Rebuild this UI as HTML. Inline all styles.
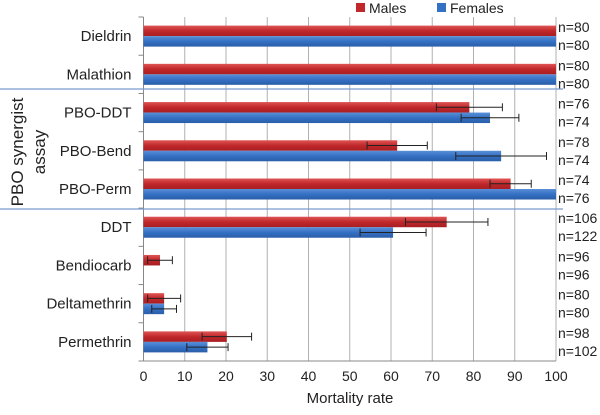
<!DOCTYPE html>
<html><head><meta charset="utf-8"><style>
body{margin:0;background:#fff;font-family:"Liberation Sans",sans-serif}
svg text{font-family:"Liberation Sans",sans-serif;fill:#222}
</style></head><body>
<svg width="600" height="410">
<defs>
<linearGradient id="gr" x1="0" y1="0" x2="0" y2="1"><stop offset="0" stop-color="#e05555"/><stop offset="0.5" stop-color="#c0282b"/><stop offset="1" stop-color="#a81e22"/></linearGradient>
<linearGradient id="gb" x1="0" y1="0" x2="0" y2="1"><stop offset="0" stop-color="#5a8fd8"/><stop offset="0.5" stop-color="#3470c4"/><stop offset="1" stop-color="#2a5ea8"/></linearGradient>
</defs>
<g id="grid"></g><g id="bars"></g><g id="labels"></g>
<line x1="0" y1="89" x2="563" y2="89" stroke="#7a9bd0" stroke-width="1.2"/>
<line x1="0" y1="209" x2="563" y2="209" stroke="#7a9bd0" stroke-width="1.2"/>
<g>
<rect x="356" y="3" width="9" height="9" fill="#c0282b"/>
<text x="369" y="13" font-size="14">Males</text>
<rect x="437" y="3" width="9" height="9" fill="#3470c4"/>
<text x="450" y="13" font-size="14">Females</text>
</g>
<text transform="translate(23,152) rotate(-90)" text-anchor="middle" font-size="17">PBO synergist</text>
<text transform="translate(45,152) rotate(-90)" text-anchor="middle" font-size="17">assay</text>
<text x="350" y="403" text-anchor="middle" font-size="15">Mortality rate</text>
</svg>
<script>
const categories=["Dieldrin","Malathion","PBO-DDT","PBO-Bend","PBO-Perm","DDT","Bendiocarb","Deltamethrin","Permethrin"];
const males=[100,100,79,61.5,89,73.5,4,5,20.2];
const malesErr=[0,0,8,7.3,5,10,3,4,6];
const females=[100,100,84,86.7,100,60.5,0,5,15.5];
const femalesErr=[0,0,7,11,0,8,0,3,5];
const nMales=["n=80","n=80","n=76","n=78","n=74","n=106","n=96","n=80","n=98"];
const nFemales=["n=80","n=80","n=74","n=74","n=76","n=122","n=96","n=80","n=102"];
const ticks=[0,10,20,30,40,50,60,70,80,90,100];
const NS="http://www.w3.org/2000/svg";
const X0=143.5,X1=556,T=17,B=361;
const x=v=>X0+(X1-X0)*v/100;
const band=(B-T)/categories.length;
const yc=i=>T+band*(i+0.5);
function mk(t,a,p){const e=document.createElementNS(NS,t);for(const k in a)e.setAttribute(k,a[k]);p.appendChild(e);return e;}
const grid=document.getElementById('grid'),bars=document.getElementById('bars'),lab=document.getElementById('labels');
ticks.forEach(t=>{
 const l=mk('line',{x1:x(t),x2:x(t),y1:T,y2:B,stroke:'#b0b0b0'},grid);
 
 
 const tx=mk('text',{x:x(t),y:B+20,'text-anchor':'middle','font-size':14},lab);tx.textContent=t;
 
 
});
const ax=mk('line',{x1:X0,x2:X0,y1:T,y2:B,stroke:'#888'},grid);


const bx=mk('line',{x1:X0,x2:X1,y1:B,y2:B,stroke:'#888'},grid);


for(let i=0;i<=categories.length;i++){const tk=mk('line',{x1:X0-5,x2:X0,y1:T+band*i,y2:T+band*i,stroke:'#888'},grid);
 
 }
function err(v,e,cy){if(!e)return;
 const g=mk('g',{stroke:'#222','stroke-width':1},bars);
 
 
 mk('line',{x1:x(v-e),x2:x(v+e),y1:cy,y2:cy},g);
 mk('line',{x1:x(v-e),x2:x(v-e),y1:cy-4,y2:cy+4},g);
 mk('line',{x1:x(v+e),x2:x(v+e),y1:cy-4,y2:cy+4},g);}
categories.forEach((c,i)=>{
 const cy=yc(i),h=10.5;
 if(males[i]>0){const r=mk('rect',{x:X0,y:cy-h,width:x(males[i])-X0,height:h,fill:'url(#gr)'},bars);
 
 }
 if(females[i]>0){const r=mk('rect',{x:X0,y:cy,width:x(females[i])-X0,height:h,fill:'url(#gb)'},bars);
 
 }
 err(males[i],malesErr[i],cy-h/2);
 err(females[i],femalesErr[i],cy+h/2);
 const t=mk('text',{x:X0-12,y:cy+5,'text-anchor':'end','font-size':15},lab);t.textContent=c;
 
 
 const n1=mk('text',{x:558,y:cy-4,'font-size':14},lab);n1.textContent=nMales[i];
 
 
 const n2=mk('text',{x:558,y:cy+14,'font-size':14},lab);n2.textContent=nFemales[i];
 
 
});
</script>
</body></html>
